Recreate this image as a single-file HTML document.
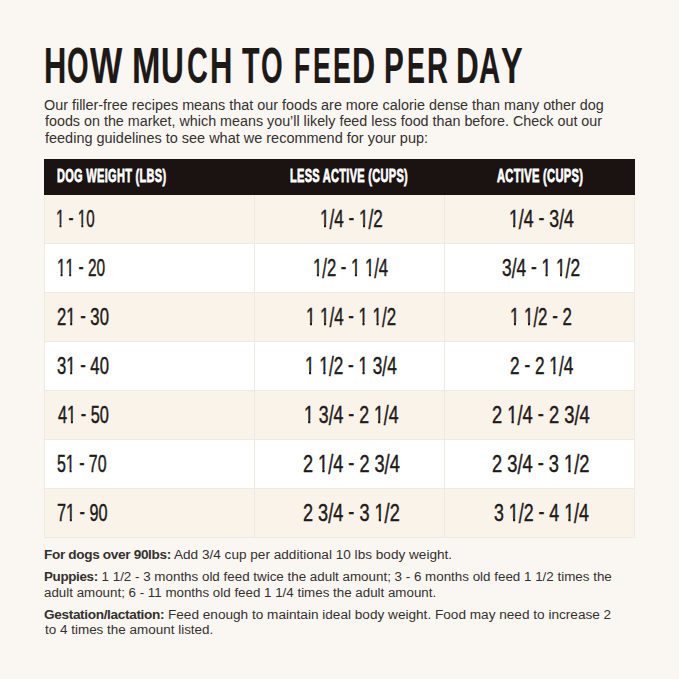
<!DOCTYPE html>
<html><head><meta charset="utf-8"><style>
html,body{margin:0;padding:0;width:679px;height:679px;overflow:hidden;background:#faf7f3;}
.t{position:absolute;white-space:pre;font-family:"Liberation Sans",sans-serif;transform-origin:0 0;}
.one{display:inline-block;clip-path:polygon(0 0,100% 0,100% 0.70em,calc(0.34em + 0.4px) 0.70em,calc(0.34em + 0.4px) 100%,calc(0.25em - 0.4px) 100%,calc(0.25em - 0.4px) 0.70em,0 0.70em);}.sl{display:inline-block;transform:scaleY(1.12);transform-origin:50% 0.16em;}.hy{position:relative;top:-1.8px;}
</style></head><body>
<div style='position:absolute;left:44px;top:159px;width:590.5px;height:35.5px;background:#1a1311'></div>
<div style='position:absolute;left:44px;top:194.5px;width:590.5px;height:49.0px;background:#faf3ea'></div>
<div style='position:absolute;left:44px;top:243.5px;width:590.5px;height:49.0px;background:#ffffff'></div>
<div style='position:absolute;left:44px;top:292.5px;width:590.5px;height:49.0px;background:#faf3ea'></div>
<div style='position:absolute;left:44px;top:341.5px;width:590.5px;height:49.0px;background:#ffffff'></div>
<div style='position:absolute;left:44px;top:390.5px;width:590.5px;height:49.0px;background:#faf3ea'></div>
<div style='position:absolute;left:44px;top:439.5px;width:590.5px;height:49.0px;background:#ffffff'></div>
<div style='position:absolute;left:44px;top:488.5px;width:590.5px;height:49.0px;background:#faf3ea'></div>
<div style='position:absolute;left:44px;top:243.0px;width:590.5px;height:1px;background:#ede9e4'></div>
<div style='position:absolute;left:44px;top:292.0px;width:590.5px;height:1px;background:#ede9e4'></div>
<div style='position:absolute;left:44px;top:341.0px;width:590.5px;height:1px;background:#ede9e4'></div>
<div style='position:absolute;left:44px;top:390.0px;width:590.5px;height:1px;background:#ede9e4'></div>
<div style='position:absolute;left:44px;top:439.0px;width:590.5px;height:1px;background:#ede9e4'></div>
<div style='position:absolute;left:44px;top:488.0px;width:590.5px;height:1px;background:#ede9e4'></div>
<div style='position:absolute;left:44px;top:194.5px;width:590.5px;height:343.0px;box-sizing:border-box;border:1px solid #edeae5;border-top:none'></div>
<div style='position:absolute;left:254.0px;top:194.5px;width:1px;height:343.0px;background:#ede9e4'></div>
<div style='position:absolute;left:444.0px;top:194.5px;width:1px;height:343.0px;background:#ede9e4'></div>
<div class='t' style='left:44.35px;top:40.50px;font-size:50px;line-height:50px;font-weight:700;color:#1d1917;transform:scaleX(0.6167);-webkit-text-stroke:0.2px #1d1917'>H</div>
<div class='t' style='left:67.19px;top:40.50px;font-size:50px;line-height:50px;font-weight:700;color:#1d1917;transform:scaleX(0.5543);-webkit-text-stroke:0.2px #1d1917'>O</div>
<div class='t' style='left:90.40px;top:40.50px;font-size:50px;line-height:50px;font-weight:700;color:#1d1917;transform:scaleX(0.6830);-webkit-text-stroke:0.2px #1d1917'>W</div>
<div class='t' style='left:132.05px;top:40.50px;font-size:50px;line-height:50px;font-weight:700;color:#1d1917;transform:scaleX(0.6829);-webkit-text-stroke:0.2px #1d1917'>M</div>
<div class='t' style='left:161.20px;top:40.50px;font-size:50px;line-height:50px;font-weight:700;color:#1d1917;transform:scaleX(0.6333);-webkit-text-stroke:0.2px #1d1917'>U</div>
<div class='t' style='left:186.65px;top:40.50px;font-size:50px;line-height:50px;font-weight:700;color:#1d1917;transform:scaleX(0.5758);-webkit-text-stroke:0.2px #1d1917'>C</div>
<div class='t' style='left:209.74px;top:40.50px;font-size:50px;line-height:50px;font-weight:700;color:#1d1917;transform:scaleX(0.6200);-webkit-text-stroke:0.2px #1d1917'>H</div>
<div class='t' style='left:241.70px;top:40.50px;font-size:50px;line-height:50px;font-weight:700;color:#1d1917;transform:scaleX(0.5733);-webkit-text-stroke:0.2px #1d1917'>T</div>
<div class='t' style='left:261.39px;top:40.50px;font-size:50px;line-height:50px;font-weight:700;color:#1d1917;transform:scaleX(0.5571);-webkit-text-stroke:0.2px #1d1917'>O</div>
<div class='t' style='left:293.62px;top:40.50px;font-size:50px;line-height:50px;font-weight:700;color:#1d1917;transform:scaleX(0.5269);-webkit-text-stroke:0.2px #1d1917'>F</div>
<div class='t' style='left:312.69px;top:40.50px;font-size:50px;line-height:50px;font-weight:700;color:#1d1917;transform:scaleX(0.5357);-webkit-text-stroke:0.2px #1d1917'>E</div>
<div class='t' style='left:332.59px;top:40.50px;font-size:50px;line-height:50px;font-weight:700;color:#1d1917;transform:scaleX(0.5357);-webkit-text-stroke:0.2px #1d1917'>E</div>
<div class='t' style='left:352.07px;top:40.50px;font-size:50px;line-height:50px;font-weight:700;color:#1d1917;transform:scaleX(0.6419);-webkit-text-stroke:0.2px #1d1917'>D</div>
<div class='t' style='left:384.02px;top:40.50px;font-size:50px;line-height:50px;font-weight:700;color:#1d1917;transform:scaleX(0.5931);-webkit-text-stroke:0.2px #1d1917'>P</div>
<div class='t' style='left:406.79px;top:40.50px;font-size:50px;line-height:50px;font-weight:700;color:#1d1917;transform:scaleX(0.5357);-webkit-text-stroke:0.2px #1d1917'>E</div>
<div class='t' style='left:426.57px;top:40.50px;font-size:50px;line-height:50px;font-weight:700;color:#1d1917;transform:scaleX(0.5781);-webkit-text-stroke:0.2px #1d1917'>R</div>
<div class='t' style='left:456.31px;top:40.50px;font-size:50px;line-height:50px;font-weight:700;color:#1d1917;transform:scaleX(0.6290);-webkit-text-stroke:0.2px #1d1917'>D</div>
<div class='t' style='left:479.41px;top:40.50px;font-size:50px;line-height:50px;font-weight:700;color:#1d1917;transform:scaleX(0.5882);-webkit-text-stroke:0.2px #1d1917'>A</div>
<div class='t' style='left:500.55px;top:40.50px;font-size:50px;line-height:50px;font-weight:700;color:#1d1917;transform:scaleX(0.6484);-webkit-text-stroke:0.2px #1d1917'>Y</div>
<div class='t' style='left:43.67px;top:97.70px;font-size:14px;line-height:14px;font-weight:400;color:#34302d;transform:scaleX(1.0263);'>Our filler-free recipes means that our foods are more calorie dense than many other dog</div>
<div class='t' style='left:44.70px;top:114.20px;font-size:14px;line-height:14px;font-weight:400;color:#34302d;transform:scaleX(1.0226);'>foods on the market, which means you’ll likely feed less food than before. Check out our</div>
<div class='t' style='left:44.70px;top:130.80px;font-size:14px;line-height:14px;font-weight:400;color:#34302d;transform:scaleX(1.0339);'>feeding guidelines to see what we recommend for your pup:</div>
<div class='t' style='left:57.32px;top:166.45px;font-size:19px;line-height:19px;font-weight:700;color:#ffffff;transform:scaleX(0.5802);letter-spacing:0.5px;-webkit-text-stroke:0.8px #fff'>DOG WEIGHT (LBS)</div>
<div class='t' style='left:290.12px;top:166.45px;font-size:19px;line-height:19px;font-weight:700;color:#ffffff;transform:scaleX(0.5797);letter-spacing:0.5px;-webkit-text-stroke:0.8px #fff'>LESS ACTIVE (CUPS)</div>
<div class='t' style='left:496.80px;top:166.45px;font-size:19px;line-height:19px;font-weight:700;color:#ffffff;transform:scaleX(0.5870);letter-spacing:0.5px;-webkit-text-stroke:0.8px #fff'>ACTIVE (CUPS)</div>
<div class='t' style='left:56.27px;top:207.18px;font-size:24.5px;line-height:24.5px;font-weight:400;color:#1e1a18;transform:scaleX(0.6167);-webkit-text-stroke:0.45px #1e1a18'><span class="one">1</span> <span class="hy">-</span> <span class="one">1</span>0</div>
<div class='t' style='left:319.50px;top:207.18px;font-size:24.5px;line-height:24.5px;font-weight:400;color:#1e1a18;transform:scaleX(0.6977);-webkit-text-stroke:0.45px #1e1a18'><span class="one">1</span><span class="sl">/</span>4 <span class="hy">-</span> <span class="one">1</span><span class="sl">/</span>2</div>
<div class='t' style='left:508.56px;top:207.18px;font-size:24.5px;line-height:24.5px;font-weight:400;color:#1e1a18;transform:scaleX(0.7218);-webkit-text-stroke:0.45px #1e1a18'><span class="one">1</span><span class="sl">/</span>4 <span class="hy">-</span> 3<span class="sl">/</span>4</div>
<div class='t' style='left:56.64px;top:256.18px;font-size:24.5px;line-height:24.5px;font-weight:400;color:#1e1a18;transform:scaleX(0.6311);-webkit-text-stroke:0.45px #1e1a18'><span class="one">1</span><span class="one">1</span> <span class="hy">-</span> 20</div>
<div class='t' style='left:312.84px;top:256.18px;font-size:24.5px;line-height:24.5px;font-weight:400;color:#1e1a18;transform:scaleX(0.6806);-webkit-text-stroke:0.45px #1e1a18'><span class="one">1</span><span class="sl">/</span>2 <span class="hy">-</span> <span class="one">1</span> <span class="one">1</span><span class="sl">/</span>4</div>
<div class='t' style='left:502.29px;top:256.18px;font-size:24.5px;line-height:24.5px;font-weight:400;color:#1e1a18;transform:scaleX(0.7065);-webkit-text-stroke:0.45px #1e1a18'>3<span class="sl">/</span>4 <span class="hy">-</span> <span class="one">1</span> <span class="one">1</span><span class="sl">/</span>2</div>
<div class='t' style='left:56.82px;top:305.18px;font-size:24.5px;line-height:24.5px;font-weight:400;color:#1e1a18;transform:scaleX(0.6800);-webkit-text-stroke:0.45px #1e1a18'>2<span class="one">1</span> <span class="hy">-</span> 30</div>
<div class='t' style='left:305.72px;top:305.18px;font-size:24.5px;line-height:24.5px;font-weight:400;color:#1e1a18;transform:scaleX(0.6883);-webkit-text-stroke:0.45px #1e1a18'><span class="one">1</span> <span class="one">1</span><span class="sl">/</span>4 <span class="hy">-</span> <span class="one">1</span> <span class="one">1</span><span class="sl">/</span>2</div>
<div class='t' style='left:510.43px;top:305.18px;font-size:24.5px;line-height:24.5px;font-weight:400;color:#1e1a18;transform:scaleX(0.6874);-webkit-text-stroke:0.45px #1e1a18'><span class="one">1</span> <span class="one">1</span><span class="sl">/</span>2 <span class="hy">-</span> 2</div>
<div class='t' style='left:57.22px;top:354.18px;font-size:24.5px;line-height:24.5px;font-weight:400;color:#1e1a18;transform:scaleX(0.6800);-webkit-text-stroke:0.45px #1e1a18'>3<span class="one">1</span> <span class="hy">-</span> 40</div>
<div class='t' style='left:304.90px;top:354.18px;font-size:24.5px;line-height:24.5px;font-weight:400;color:#1e1a18;transform:scaleX(0.7008);-webkit-text-stroke:0.45px #1e1a18'><span class="one">1</span> <span class="one">1</span><span class="sl">/</span>2 <span class="hy">-</span> <span class="one">1</span> 3<span class="sl">/</span>4</div>
<div class='t' style='left:509.70px;top:354.18px;font-size:24.5px;line-height:24.5px;font-weight:400;color:#1e1a18;transform:scaleX(0.7034);-webkit-text-stroke:0.45px #1e1a18'>2 <span class="hy">-</span> 2 <span class="one">1</span><span class="sl">/</span>4</div>
<div class='t' style='left:57.90px;top:403.18px;font-size:24.5px;line-height:24.5px;font-weight:400;color:#1e1a18;transform:scaleX(0.6658);-webkit-text-stroke:0.45px #1e1a18'>4<span class="one">1</span> <span class="hy">-</span> 50</div>
<div class='t' style='left:303.55px;top:403.18px;font-size:24.5px;line-height:24.5px;font-weight:400;color:#1e1a18;transform:scaleX(0.7227);-webkit-text-stroke:0.45px #1e1a18'><span class="one">1</span> 3<span class="sl">/</span>4 <span class="hy">-</span> 2 <span class="one">1</span><span class="sl">/</span>4</div>
<div class='t' style='left:492.25px;top:403.18px;font-size:24.5px;line-height:24.5px;font-weight:400;color:#1e1a18;transform:scaleX(0.7473);-webkit-text-stroke:0.45px #1e1a18'>2 <span class="one">1</span><span class="sl">/</span>4 <span class="hy">-</span> 2 3<span class="sl">/</span>4</div>
<div class='t' style='left:57.25px;top:452.18px;font-size:24.5px;line-height:24.5px;font-weight:400;color:#1e1a18;transform:scaleX(0.6493);-webkit-text-stroke:0.45px #1e1a18'>5<span class="one">1</span> <span class="hy">-</span> 70</div>
<div class='t' style='left:302.56px;top:452.18px;font-size:24.5px;line-height:24.5px;font-weight:400;color:#1e1a18;transform:scaleX(0.7395);-webkit-text-stroke:0.45px #1e1a18'>2 <span class="one">1</span><span class="sl">/</span>4 <span class="hy">-</span> 2 3<span class="sl">/</span>4</div>
<div class='t' style='left:491.96px;top:452.18px;font-size:24.5px;line-height:24.5px;font-weight:400;color:#1e1a18;transform:scaleX(0.7450);-webkit-text-stroke:0.45px #1e1a18'>2 3<span class="sl">/</span>4 <span class="hy">-</span> 3 <span class="one">1</span><span class="sl">/</span>2</div>
<div class='t' style='left:57.34px;top:501.18px;font-size:24.5px;line-height:24.5px;font-weight:400;color:#1e1a18;transform:scaleX(0.6627);-webkit-text-stroke:0.45px #1e1a18'>7<span class="one">1</span> <span class="hy">-</span> 90</div>
<div class='t' style='left:302.56px;top:501.18px;font-size:24.5px;line-height:24.5px;font-weight:400;color:#1e1a18;transform:scaleX(0.7395);-webkit-text-stroke:0.45px #1e1a18'>2 3<span class="sl">/</span>4 <span class="hy">-</span> 3 <span class="one">1</span><span class="sl">/</span>2</div>
<div class='t' style='left:493.97px;top:501.18px;font-size:24.5px;line-height:24.5px;font-weight:400;color:#1e1a18;transform:scaleX(0.7256);-webkit-text-stroke:0.45px #1e1a18'>3 <span class="one">1</span><span class="sl">/</span>2 <span class="hy">-</span> 4 <span class="one">1</span><span class="sl">/</span>4</div>
<div class='t' style='left:44.07px;top:548.70px;font-size:12px;line-height:12px;font-weight:400;color:#34302d;transform:scaleX(1.1330);'><b style="letter-spacing:-0.3px">For dogs over 90lbs:</b> Add 3/4 cup per additional 10 lbs body weight.</div>
<div class='t' style='left:44.09px;top:571.00px;font-size:12px;line-height:12px;font-weight:400;color:#34302d;transform:scaleX(1.1150);'><b style="letter-spacing:-0.3px">Puppies:</b> 1 1/2 - 3 months old feed twice the adult amount; 3 - 6 months old feed 1 1/2 times the</div>
<div class='t' style='left:44.09px;top:587.00px;font-size:12px;line-height:12px;font-weight:400;color:#34302d;transform:scaleX(1.1120);'>adult amount; 6 - 11 months old feed 1 1/4 times the adult amount.</div>
<div class='t' style='left:44.07px;top:609.40px;font-size:12px;line-height:12px;font-weight:400;color:#34302d;transform:scaleX(1.1337);'><b style="letter-spacing:-0.3px">Gestation/lactation:</b> Feed enough to maintain ideal body weight. Food may need to increase 2</div>
<div class='t' style='left:45.20px;top:623.80px;font-size:12px;line-height:12px;font-weight:400;color:#34302d;transform:scaleX(1.1215);'>to 4 times the amount listed.</div>
</body></html>
